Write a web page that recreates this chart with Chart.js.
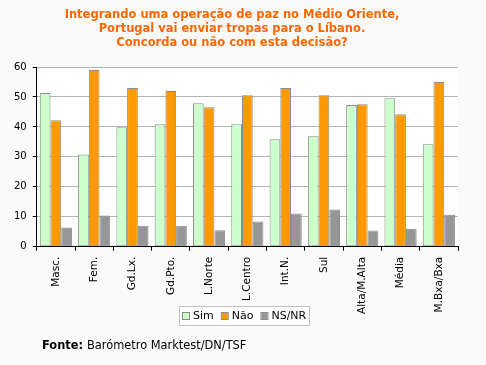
<!DOCTYPE html>
<html>
<head>
<meta charset="utf-8">
<script src="https://cdn.jsdelivr.net/npm/chart.js@4/dist/chart.umd.min.js"></script>
<style>
  html, body { margin: 0; padding: 0; background: #fafafa; }
  #wrap { width: 486px; height: 365px; position: relative; }
</style>
</head>
<body>
<div id="wrap"><canvas id="grafico"></canvas></div>
<script>
const categorias = ['Masc.', 'Fem.', 'Gd.Lx.', 'Gd.Pto.', 'L.Norte', 'L.Centro', 'Int.N.', 'Sul', 'Alta/M.Alta', 'Média', 'M.Bxa/Bxa'];
const sim  = [51.3, 30.8, 39.9, 40.9, 47.9, 40.9, 35.9, 36.9, 47.3, 49.6, 34.2];
const nao  = [42.2, 59.0, 53.0, 52.0, 46.6, 50.6, 53.0, 50.6, 47.6, 44.2, 55.0];
const nsnr = [6.4, 10.4, 7.0, 7.0, 5.5, 8.4, 11.1, 12.4, 5.4, 6.0, 10.7];
const titulo = ['Integrando uma operação de paz no Médio Oriente,', 'Portugal vai enviar tropas para o Líbano.', 'Concorda ou não com esta decisão?'];
const fonte = 'Barómetro Marktest/DN/TSF';

const FONT = '"DejaVu Sans", Verdana, sans-serif';

// fundo, titulo, legenda e fonte desenhados à mão
const extras = {
    id: 'extras',
    beforeDraw(chart) {
        const ctx = chart.ctx;
        const a = chart.chartArea;
        ctx.save();
        ctx.fillStyle = '#fafafa';
        ctx.fillRect(0, 0, chart.width, chart.height);
        ctx.fillStyle = '#ffffff';
        ctx.fillRect(a.left, a.top, a.right - a.left, a.bottom - a.top);
        ctx.restore();
    },
    afterDraw(chart) {
        const ctx = chart.ctx;
        ctx.save();
        // titulo
        ctx.fillStyle = '#ff6600';
        ctx.font = 'bold 11.5px ' + FONT;
        ctx.textAlign = 'center';
        ctx.textBaseline = 'middle';
        titulo.forEach((linha, i) => ctx.fillText(linha, 232, 15 + i * 14));

        // legenda
        ctx.fillStyle = '#ffffff';
        ctx.fillRect(180, 307, 129, 18);
        ctx.strokeStyle = '#c0c0c0';
        ctx.lineWidth = 1;
        ctx.strokeRect(179.5, 306.5, 130, 19);
        ctx.font = '11px ' + FONT;
        ctx.textAlign = 'left';
        let x = 183;
        chart.data.datasets.forEach(ds => {
            ctx.fillStyle = ds.backgroundColor;
            ctx.fillRect(x, 313, 6, 6);
            ctx.strokeStyle = '#8c8c8c';
            ctx.strokeRect(x - 0.5, 312.5, 7, 7);
            ctx.fillStyle = '#000000';
            ctx.fillText(ds.label, x + 10, 316.5);
            x += 10 + ctx.measureText(ds.label).width + 8;
        });

        // fonte
        ctx.font = 'bold 11.4px ' + FONT;
        ctx.fillText('Fonte:', 42, 346.5);
        const w = ctx.measureText('Fonte: ').width;
        ctx.font = '11.4px ' + FONT;
        ctx.fillText(fonte, 42 + w, 346.5);
        ctx.restore();
    }
};

const grafico = document.querySelector('#grafico');
new Chart(grafico, {
    type: 'bar',
    data: {
        labels: categorias,
        datasets: [
            { label: 'Sim', data: sim, backgroundColor: '#ccffcc' },
            { label: 'Não', data: nao, backgroundColor: '#ff9900' },
            { label: 'NS/NR', data: nsnr, backgroundColor: '#969696' }
        ]
    },
    options: {
        responsive: true,
        maintainAspectRatio: false,
        animation: false,
        layout: { padding: { top: 67, left: 8, right: 28, bottom: 45 } },
        datasets: {
            bar: {
                borderColor: '#8c8c8c',
                borderWidth: 1,
                borderSkipped: false,
                barPercentage: 1,
                categoryPercentage: 0.84,
                inflateAmount: 0
            }
        },
        plugins: {
            legend: { display: false },
            title: { display: false },
            tooltip: { enabled: false }
        },
        scales: {
            x: {
                grid: { drawOnChartArea: false, tickLength: 4, color: '#000000', offset: true },
                border: { color: '#000000' },
                ticks: {
                    color: '#000000',
                    font: { family: FONT, size: 10.5 },
                    maxRotation: 90,
                    minRotation: 90,
                    padding: 6
                }
            },
            y: {
                min: 0,
                max: 60,
                ticks: {
                    stepSize: 10,
                    color: '#000000',
                    font: { family: FONT, size: 10 },
                    padding: 6
                },
                grid: { color: '#b4b4b4', tickColor: '#000000', tickLength: 4 },
                border: { color: '#000000' }
            }
        }
    },
    plugins: [extras]
});
</script>
</body>
</html>
